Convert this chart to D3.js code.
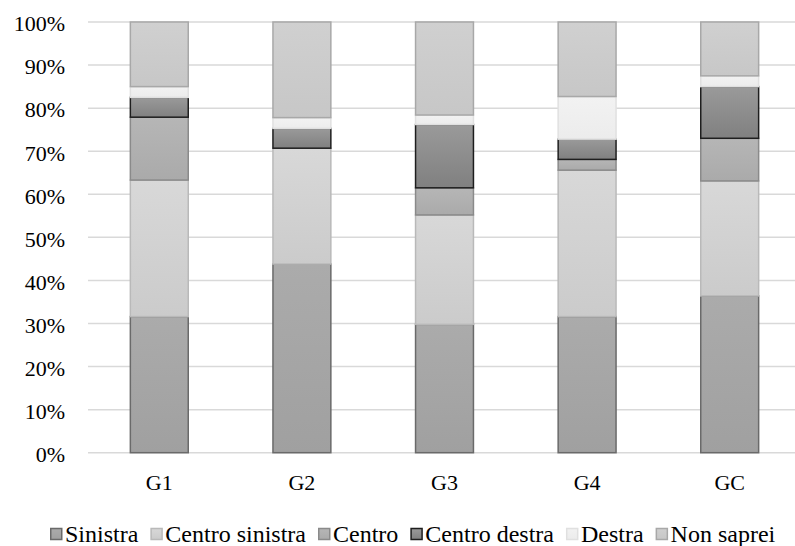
<!DOCTYPE html>
<html>
<head>
<meta charset="utf-8">
<script src="https://cdn.jsdelivr.net/npm/d3@7"></script>
<style>
  html, body { margin: 0; padding: 0; background: #fff; }
  svg { display: block; }
  text { font-family: "Liberation Serif", "Times New Roman", serif; fill: #000; }
</style>
</head>
<body>
<svg id="chart" width="795" height="546"></svg>
<script>
// Groups along the x axis
const groups = ["G1", "G2", "G3", "G4", "GC"];
// Stack series, bottom to top
const seriesNames = ["Sinistra", "Centro sinistra", "Centro", "Centro destra", "Destra", "Non saprei"];
// Percent share of each series per group
const sinistra       = [31.6, 43.8, 29.8, 31.6, 36.4];
const centroSinistra = [31.7, 26.9, 25.4, 34.0, 26.7];
const centro         = [14.6,  0.0,  6.3,  2.5,  9.9];
const centroDestra   = [ 4.6,  4.6, 14.7,  4.7, 12.0];
const destra         = [ 2.5,  2.5,  2.2,  9.9,  2.5];
const nonSaprei      = [15.0, 22.2, 21.6, 17.3, 12.5];
// Y axis ticks
const yTicks = [0, 10, 20, 30, 40, 50, 60, 70, 80, 90, 100];

const seriesValues = [sinistra, centroSinistra, centro, centroDestra, destra, nonSaprei];

// Fill gradient (top, bottom) and outline per series
const styles = [
  { top: "#ababab", bottom: "#a0a0a0", stroke: "#6a6a6a" },
  { top: "#d8d8d8", bottom: "#cbcbcb", stroke: "#b9b9b9" },
  { top: "#b6b6b6", bottom: "#aaaaaa", stroke: "#8a8a8a" },
  { top: "#9a9a9a", bottom: "#808080", stroke: "#1e1e1e" },
  { top: "#f2f2f2", bottom: "#ececec", stroke: "#e0e0e0" },
  { top: "#d0d0d0", bottom: "#c7c7c7", stroke: "#a8a8a8" }
];

const table = groups.map((g, i) => {
  const row = { group: g };
  seriesNames.forEach((s, j) => { row[s] = seriesValues[j][i]; });
  return row;
});

const svg = d3.select("#chart");
const defs = svg.append("defs");
styles.forEach((st, j) => {
  const grad = defs.append("linearGradient")
    .attr("id", "grad" + j)
    .attr("x1", 0).attr("y1", 0).attr("x2", 0).attr("y2", 1);
  grad.append("stop").attr("offset", "0%").attr("stop-color", st.top);
  grad.append("stop").attr("offset", "100%").attr("stop-color", st.bottom);
});

const plotLeft = 88, plotRight = 801, plotTop = 22, plotBottom = 452.7;

const x = d3.scaleBand().domain(groups).range([plotLeft, plotRight]).paddingInner(0.594).paddingOuter(0.297);
const y = d3.scaleLinear().domain([0, 100]).range([plotBottom, plotTop]);

// Horizontal gridlines
svg.append("g")
  .selectAll("line")
  .data(yTicks)
  .join("line")
  .attr("x1", plotLeft).attr("x2", 795)
  .attr("y1", d => y(d)).attr("y2", d => y(d))
  .attr("stroke", "#d9d9d9")
  .attr("stroke-width", 1.5);

// Y axis labels
const yAxis = d3.axisLeft(y).tickValues(yTicks).tickFormat(d => d + "%").tickSize(0).tickPadding(0);
const yg = svg.append("g").attr("transform", `translate(65,0)`).call(yAxis);
yg.select(".domain").remove();
yg.selectAll("text")
  .attr("font-size", "22px")
  .attr("font-family", "Liberation Serif, Times New Roman, serif")
  .attr("fill", "#000")
  .attr("dy", "0.4em");

// X axis labels
const xAxis = d3.axisBottom(x).tickSize(0).tickPadding(0);
const xg = svg.append("g").attr("transform", `translate(0,474)`).call(xAxis);
xg.select(".domain").remove();
xg.selectAll("text")
  .attr("font-size", "22px")
  .attr("font-family", "Liberation Serif, Times New Roman, serif")
  .attr("fill", "#000")
  .attr("dy", "0.71em");

// Stacked bars
const stacked = d3.stack().keys(seriesNames)(table);
svg.append("g")
  .selectAll("g")
  .data(stacked)
  .join("g")
  .attr("fill", (d, j) => `url(#grad${j})`)
  .attr("stroke", (d, j) => styles[j].stroke)
  .attr("stroke-width", 1.5)
  .selectAll("rect")
  .data(d => d.filter(p => p[1] - p[0] > 0))
  .join("rect")
  .attr("x", p => x(p.data.group))
  .attr("width", x.bandwidth())
  .attr("y", p => y(p[1]))
  .attr("height", p => y(p[0]) - y(p[1]));

// Legend
const legend = svg.append("g").attr("transform", "translate(50,534)");
let cursor = 0;
seriesNames.forEach((name, j) => {
  const item = legend.append("g").attr("transform", `translate(${cursor},0)`);
  item.append("rect")
    .attr("x", 0.75).attr("y", -5.5)
    .attr("width", 11).attr("height", 11)
    .attr("fill", `url(#grad${j})`)
    .attr("stroke", styles[j].stroke)
    .attr("stroke-width", 1.5);
  const t = item.append("text")
    .attr("x", 15)
    .attr("y", 0)
    .attr("dy", "0.34em")
    .attr("font-size", "24px")
    .text(name);
  cursor += 15 + t.node().getComputedTextLength() + 12;
});
</script>
</body>
</html>
